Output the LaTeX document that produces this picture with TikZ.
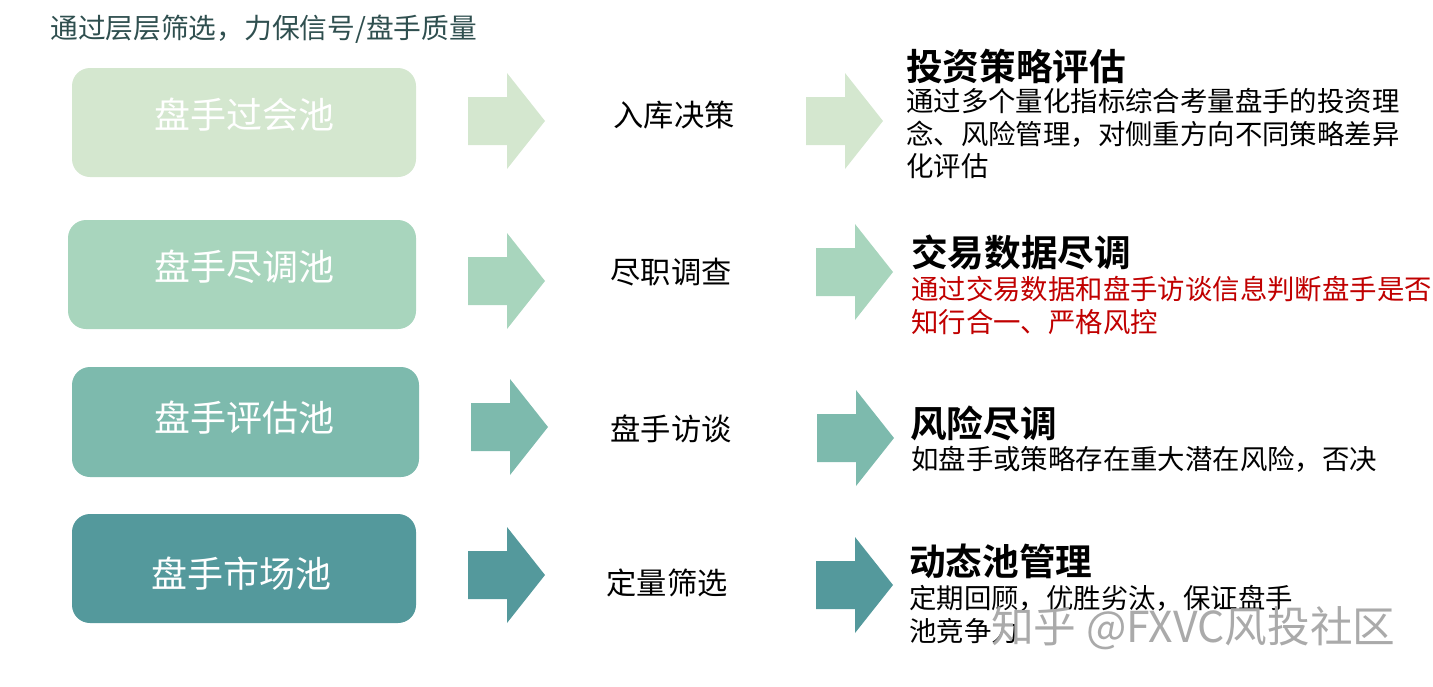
\documentclass[tikz,border=0pt]{standalone}
\usepackage{fontspec}
\setmainfont{Noto Sans CJK SC}
\newfontfamily\cjkbold{Noto Sans CJK SC Bold}
\definecolor{cA}{HTML}{D4E7CF}
\definecolor{cB}{HTML}{A8D5BD}
\definecolor{cC}{HTML}{7DBAAD}
\definecolor{cD}{HTML}{54999C}
\definecolor{titlec}{HTML}{2F4F4F}
\definecolor{redc}{HTML}{C00000}
\definecolor{wm}{HTML}{AAAAAA}
\newcommand{\pxfont}[1]{\fontsize{#1}{#1}\selectfont}
\newcommand{\blockarrow}[3]{% x, ycentre, colour
  \fill[#3] (#1,#2-24) -- (#1+39,#2-24) -- (#1+39,#2-48) -- (#1+77,#2) -- (#1+39,#2+48) -- (#1+39,#2+24) -- (#1,#2+24) -- cycle;}
\tikzset{
  x=0.75pt,y=-0.75pt,
  poolbox/.style={inner sep=0pt,text=white,font=\pxfont{27pt}},
  midtext/.style={inner sep=0pt,font=\pxfont{22.7pt},text=black},
  headtext/.style={inner sep=0pt,anchor=west,font=\cjkbold\pxfont{27.5pt},text=black},
  desctext/.style={inner sep=0pt,anchor=north west,align=left,font=\fontsize{20.55pt}{24.4pt}\selectfont,text=black},
}
\begin{document}
\begin{tikzpicture}
\useasboundingbox (0,0) rectangle (1433,686);
\node[inner sep=0pt,anchor=west,text=titlec,font=\pxfont{20.8pt}] (title) at (50,29) {通过层层筛选，力保信号/盘手质量};

\fill[cA,rounded corners=13.5pt] (72,68) rectangle (416,177);
\node[poolbox] (p1) at (244,115) {盘手过会池};
\fill[cB,rounded corners=13.5pt] (68,220) rectangle (416,329);
\node[poolbox] (p2) at (244,267) {盘手尽调池};
\fill[cC,rounded corners=13.5pt] (72,367) rectangle (419,477);
\node[poolbox] (p3) at (244,418) {盘手评估池};
\fill[cD,rounded corners=13.5pt] (72,514) rectangle (416,623);
\node[poolbox] (p4) at (241,574) {盘手市场池};

\blockarrow{468}{121}{cA}
\blockarrow{468}{281}{cB}
\blockarrow{471}{427}{cC}
\blockarrow{468}{575}{cD}

\node[midtext] (m1) at (674,115) {入库决策};
\node[midtext] (m2) at (671,272) {尽职调查};
\node[midtext] (m3) at (671,429) {盘手访谈};
\node[midtext] (m4) at (667,583) {定量筛选};

\blockarrow{806}{121}{cA}
\blockarrow{816}{272}{cB}
\blockarrow{817}{438}{cC}
\blockarrow{816}{585}{cD}

\node[headtext] (h1) at (906,66) {投资策略评估};
\node[desctext] (d1) at (906,88) {通过多个量化指标综合考量盘手的投资理\\念、风险管理，对侧重方向不同策略差异\\化评估};
\node[headtext] (h2) at (911,252) {交易数据尽调};
\node[desctext,text=redc] (d2) at (911,276) {通过交易数据和盘手访谈信息判断盘手是否\\知行合一、严格风控};
\node[headtext] (h3) at (910,423) {风险尽调};
\node[desctext] (d3) at (911,446) {如盘手或策略存在重大潜在风险，否决};
\node[headtext] (h4) at (909,561) {动态池管理};
\node[desctext] (d4) at (909,585) {定期回顾，优胜劣汰，保证盘手\\池竞争力};

\node[inner sep=0pt,anchor=west,text=wm,font=\pxfont{32pt}] (wmk) at (991,628) {知乎 @FXVC风投社区};
\end{tikzpicture}
\end{document}
